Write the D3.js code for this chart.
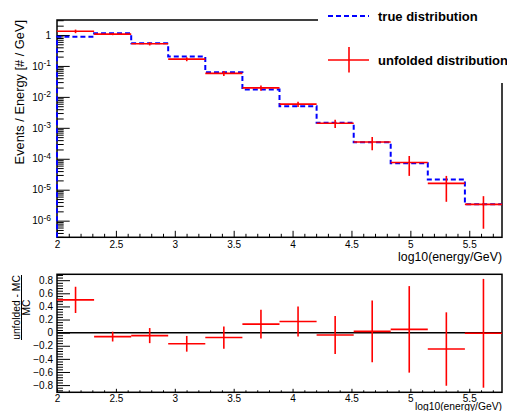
<!DOCTYPE html>
<html lang="en">
<head>
<meta charset="UTF-8">
<style>
  body { margin: 0; background: #fff; }
  svg { display: block; font-family: "Liberation Sans", Arial, Helvetica, sans-serif; }
  .axis .domain { display: none; }
  .axis line { stroke: #000; stroke-width: 1; }
  .axis text { fill: #000; }
</style>
<script src="https://d3js.org/d3.v7.min.js"></script>
</head>
<body>
<svg id="chart" width="507" height="411"></svg>
<script>
// bin edges in log10(energy/GeV), 12 bins from 100 GeV to 6e5 GeV
const binEdges = [2.000, 2.315, 2.630, 2.944, 3.259, 3.574, 3.889, 4.204, 4.519, 4.833, 5.148, 5.463, 5.778];

// true (MC) distribution, events / energy
const trueDist = [0.88, 1.13, 0.54, 0.20, 0.062, 0.0172, 5.0e-3, 1.45e-3, 3.4e-4, 7.2e-5, 2.13e-5, 3.4e-6];
// unfolded distribution
const unfoldedDist = [1.32, 1.07, 0.52, 0.166, 0.0575, 0.0195, 5.85e-3, 1.4e-3, 3.47e-4, 7.55e-5, 1.6e-5, 3.37e-6];

// (unfolded - MC) / MC and its error
const ratio = [0.50, -0.06, -0.045, -0.17, -0.075, 0.13, 0.17, -0.035, 0.02, 0.05, -0.25, -0.01];
const ratioErr = [0.20, 0.075, 0.115, 0.12, 0.17, 0.22, 0.23, 0.29, 0.47, 0.66, 0.56, 0.83];

const xTicks = [2, 2.5, 3, 3.5, 4, 4.5, 5, 5.5];
const logTicks = [1e-6, 1e-5, 1e-4, 1e-3, 1e-2, 1e-1, 1];
const ratioTicks = [-0.8, -0.6, -0.4, -0.2, 0, 0.2, 0.4, 0.6, 0.8];

const svg = d3.select('#chart');

const x = d3.scaleLinear().domain([2, 5.778]).range([57, 502]);
const yTop = d3.scaleLog().domain([2.9e-7, 3.05]).range([237.3, 20]);
const yRat = d3.scaleLinear().domain([-0.91, 0.89]).range([392.3, 274.3]);

const centers = binEdges.slice(0, -1).map((e, i) => (e + binEdges[i + 1]) / 2);

// ---------- top pad ----------
const xMinor = x.ticks(40).filter(t => !xTicks.some(m => Math.abs(m - t) < 1e-6));

svg.append('g').attr('class', 'axis')
  .attr('transform', 'translate(0,237.3)')
  .call(d3.axisBottom(x).tickValues(xMinor).tickSizeInner(-3.5).tickSizeOuter(0).tickFormat(''));

svg.append('g').attr('class', 'axis')
  .attr('transform', 'translate(0,237.3)')
  .attr('font-family', null).attr('font-size', 12)
  .call(d3.axisBottom(x).tickValues(xTicks).tickSizeInner(-6.5).tickSizeOuter(0).tickPadding(4).tickFormat(d => d));

const yMinor = [];
for (let d = -7; d <= 0; d++) {
  for (let k = 2; k <= 9; k++) {
    const v = k * Math.pow(10, d);
    if (v >= yTop.domain()[0] && v <= yTop.domain()[1]) yMinor.push(v);
  }
}

svg.append('g').attr('class', 'axis')
  .attr('transform', 'translate(57,0)')
  .call(d3.axisLeft(yTop).tickValues(yMinor).tickSizeInner(-6.7).tickSizeOuter(0).tickFormat(''));

const yAxisTop = svg.append('g').attr('class', 'axis')
  .attr('transform', 'translate(57,0)')
  .attr('font-family', null).attr('font-size', 12)
  .call(d3.axisLeft(yTop).tickValues(logTicks).tickSizeInner(-12.7).tickSizeOuter(0).tickPadding(6).tickFormat(''));

// labels as 10 with a superscript exponent
yAxisTop.selectAll('.tick text').each(function(d) {
  const t = d3.select(this);
  const e = Math.round(Math.log10(d));
  if (e === 0) {
    t.text('1');
  } else {
    t.append('tspan').text('10');
    t.append('tspan').attr('font-size', 8.5).attr('dy', '-0.45em').text(e);
  }
});

// frame
svg.append('rect')
  .attr('x', 57).attr('y', 20)
  .attr('width', 502 - 57).attr('height', 237.3 - 20)
  .attr('fill', 'none').attr('stroke', '#000').attr('stroke-width', 1.5);

// true distribution, dashed step line
let p = d3.path();
p.moveTo(x(binEdges[0]), yTop.range()[0]);
trueDist.forEach((v, i) => {
  p.lineTo(x(binEdges[i]), yTop(v));
  p.lineTo(x(binEdges[i + 1]), yTop(v));
});
svg.append('path')
  .attr('d', p.toString())
  .attr('fill', 'none')
  .attr('stroke', '#0000ff')
  .attr('stroke-width', 2)
  .attr('stroke-dasharray', '5,3');

// unfolded distribution with errors
const unfoldG = svg.append('g').attr('stroke', '#ff0000').attr('stroke-width', 1.6);
unfoldedDist.forEach((v, i) => {
  const err = ratioErr[i] * trueDist[i];
  const lo = Math.max(v - err, yTop.domain()[0]);
  unfoldG.append('line')
    .attr('x1', x(binEdges[i])).attr('x2', x(binEdges[i + 1]))
    .attr('y1', yTop(v)).attr('y2', yTop(v));
  unfoldG.append('line')
    .attr('x1', x(centers[i])).attr('x2', x(centers[i]))
    .attr('y1', yTop(v + err)).attr('y2', yTop(lo));
});

// axis titles
svg.append('text')
  .attr('transform', 'translate(24,20) rotate(-90)')
  .attr('text-anchor', 'end')
  .attr('font-size', 12.8)
  .text('Events / Energy [# / GeV]');

svg.append('text')
  .attr('x', 502).attr('y', 261)
  .attr('text-anchor', 'end')
  .attr('font-size', 12.3)
  .text('log10(energy/GeV)');

// legend box
svg.append('rect')
  .attr('x', 318).attr('y', 0).attr('width', 189).attr('height', 83)
  .attr('fill', '#fff');

const legend = svg.append('g');
legend.append('line')
  .attr('x1', 328).attr('x2', 369).attr('y1', 16).attr('y2', 16)
  .attr('stroke', '#0000ff').attr('stroke-width', 2).attr('stroke-dasharray', '5,3');
legend.append('text')
  .attr('x', 378).attr('y', 20.5)
  .attr('font-size', 13).attr('font-weight', 'bold')
  .text('true distribution');

legend.append('line')
  .attr('x1', 328).attr('x2', 369).attr('y1', 60).attr('y2', 60)
  .attr('stroke', '#ff0000').attr('stroke-width', 1.6);
legend.append('line')
  .attr('x1', 349).attr('x2', 349).attr('y1', 47).attr('y2', 72.5)
  .attr('stroke', '#ff0000').attr('stroke-width', 1.6);
legend.append('text')
  .attr('x', 378).attr('y', 64.5)
  .attr('font-size', 13).attr('font-weight', 'bold')
  .text('unfolded distribution');

// ---------- ratio pad ----------
svg.append('g').attr('class', 'axis')
  .attr('transform', 'translate(0,392.3)')
  .call(d3.axisBottom(x).tickValues(xMinor).tickSizeInner(-2).tickSizeOuter(0).tickFormat(''));

svg.append('g').attr('class', 'axis')
  .attr('transform', 'translate(0,392.3)')
  .attr('font-family', null).attr('font-size', 10.5)
  .call(d3.axisBottom(x).tickValues(xTicks).tickSizeInner(-3.5).tickSizeOuter(0).tickPadding(2.5).tickFormat(d => d));

const rMinor = d3.range(-0.88, 0.89, 0.04).filter(t => !ratioTicks.some(m => Math.abs(m - t) < 1e-6));

svg.append('g').attr('class', 'axis')
  .attr('transform', 'translate(57,0)')
  .call(d3.axisLeft(yRat).tickValues(rMinor).tickSizeInner(-6).tickSizeOuter(0).tickFormat(''));

svg.append('g').attr('class', 'axis')
  .attr('transform', 'translate(57,0)')
  .attr('font-family', null).attr('font-size', 10.5)
  .call(d3.axisLeft(yRat).tickValues(ratioTicks).tickSizeInner(-13).tickSizeOuter(0).tickPadding(4)
    .tickFormat(d => d === 0 ? '0' : d3.format('.1f')(d)));

svg.append('rect')
  .attr('x', 57).attr('y', 274.3)
  .attr('width', 502 - 57).attr('height', 392.3 - 274.3)
  .attr('fill', 'none').attr('stroke', '#000').attr('stroke-width', 1.5);

// zero line
svg.append('line')
  .attr('x1', x(2)).attr('x2', x(5.778))
  .attr('y1', yRat(0)).attr('y2', yRat(0))
  .attr('stroke', '#000').attr('stroke-width', 1.5);

const rat = svg.append('g').attr('stroke', '#ff0000').attr('stroke-width', 1.6);
ratio.forEach((v, i) => {
  rat.append('line')
    .attr('x1', x(binEdges[i])).attr('x2', x(binEdges[i + 1]))
    .attr('y1', yRat(v)).attr('y2', yRat(v));
  rat.append('line')
    .attr('x1', x(centers[i])).attr('x2', x(centers[i]))
    .attr('y1', yRat(v + ratioErr[i])).attr('y2', yRat(v - ratioErr[i]));
});

// ratio titles
const rt = svg.append('g')
  .attr('transform', 'translate(21.5,307.5) rotate(-90)')
  .attr('font-size', 10.3)
  .attr('text-anchor', 'middle');
rt.append('text').attr('x', 0).attr('y', -1.8).text('unfolded - MC');
rt.append('line')
  .attr('x1', -32.5).attr('x2', 32.5).attr('y1', 0).attr('y2', 0)
  .attr('stroke', '#000').attr('stroke-width', 1);
rt.append('text').attr('x', 0).attr('y', 8.8).text('MC');

svg.append('text')
  .attr('x', 502).attr('y', 410)
  .attr('text-anchor', 'end')
  .attr('font-size', 10.3)
  .text('log10(energy/GeV)');
</script>
</body>
</html>
